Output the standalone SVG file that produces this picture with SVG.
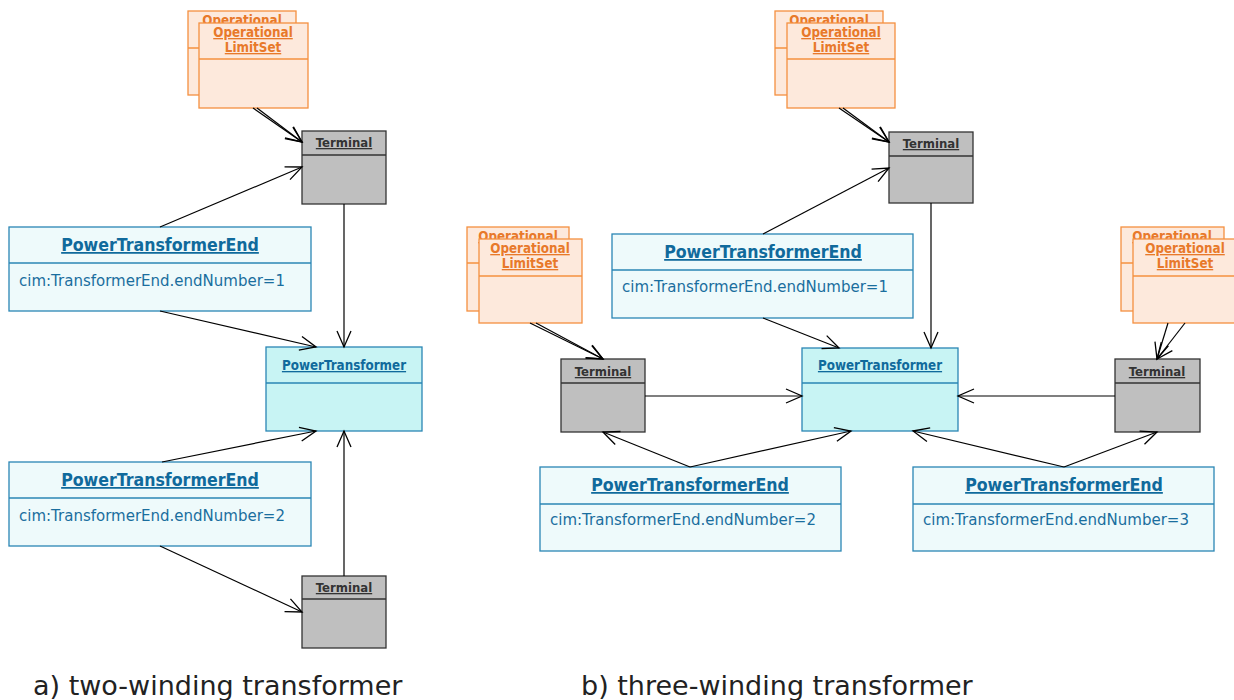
<svg xmlns="http://www.w3.org/2000/svg" width="1234" height="700" viewBox="0 0 1234 700">
<defs>
<marker id="arr" viewBox="-18 -9 20 18" refX="0" refY="0" markerWidth="20" markerHeight="18" orient="auto" markerUnits="userSpaceOnUse">
<path d="M-16,-7 L0,0 L-16,7" fill="none" stroke="#000" stroke-width="1.3"/>
</marker>
</defs>
<style>
.cd{font-family:"DejaVu Sans Condensed","DejaVu Sans",sans-serif;font-stretch:condensed;font-weight:bold;text-anchor:middle;text-decoration:underline}
.ols{fill:#fde9dc;stroke:#f5903f;stroke-width:1.3}
.olst{font-size:13.3px;fill:#e8792a}
.term{fill:#bfbfbf;stroke:#333;stroke-width:1.3}
.termt{font-size:13px;fill:#333}
.pte{fill:#eefafb;stroke:#2a86b4;stroke-width:1.3}
.ptet{font-size:17.6px;fill:#106a9c}
.ptea{font-family:"DejaVu Sans",Verdana,sans-serif;font-size:15px;fill:#1a6e9e}
.pt{fill:#c8f4f4;stroke:#2a86b4;stroke-width:1.3}
.ptt{font-size:13.3px;fill:#106a9c}
.c{fill:none;stroke:#000;stroke-width:1.2;marker-end:url(#arr)}
.cap{font-family:"DejaVu Sans",Verdana,sans-serif;font-size:27px;fill:#222}
</style>
<rect width="1234" height="700" fill="#fff"/>

<!-- ===== a) two-winding ===== -->
<g id="ols-a">
<rect class="ols" x="188" y="11" width="108" height="84"/>
<line class="ols" x1="188" y1="48" x2="296" y2="48"/>
<text class="cd olst" x="242" y="25">Operational</text>
<rect class="ols" x="199" y="23" width="109" height="85"/>
<line class="ols" x1="199" y1="59" x2="308" y2="59"/>
<text class="cd olst" x="253" y="37">Operational</text>
<text class="cd olst" x="253" y="52">LimitSet</text>
</g>
<g id="term-a1">
<rect class="term" x="302" y="131" width="84" height="73"/>
<line class="term" x1="302" y1="155" x2="386" y2="155"/>
<text class="cd termt" x="344" y="147">Terminal</text>
</g>
<g id="pte-a1">
<rect class="pte" x="9" y="227" width="302" height="84"/>
<line class="pte" x1="9" y1="263" x2="311" y2="263"/>
<text class="cd ptet" x="160" y="251">PowerTransformerEnd</text>
<text class="ptea" x="19" y="286">cim:TransformerEnd.endNumber=1</text>
</g>
<g id="pt-a">
<rect class="pt" x="266" y="347" width="156" height="84"/>
<line class="pt" x1="266" y1="383" x2="422" y2="383"/>
<text class="cd ptt" x="344" y="370">PowerTransformer</text>
</g>
<g id="pte-a2">
<rect class="pte" x="9" y="462" width="302" height="84"/>
<line class="pte" x1="9" y1="498" x2="311" y2="498"/>
<text class="cd ptet" x="160" y="486">PowerTransformerEnd</text>
<text class="ptea" x="19" y="521">cim:TransformerEnd.endNumber=2</text>
</g>
<g id="term-a2">
<rect class="term" x="302" y="576" width="84" height="72"/>
<line class="term" x1="302" y1="599" x2="386" y2="599"/>
<text class="cd termt" x="344" y="592">Terminal</text>
</g>

<!-- ===== b) three-winding ===== -->
<g id="ols-b1">
<rect class="ols" x="775" y="11" width="108" height="84"/>
<line class="ols" x1="775" y1="48" x2="883" y2="48"/>
<text class="cd olst" x="829" y="25">Operational</text>
<rect class="ols" x="787" y="23" width="108" height="85"/>
<line class="ols" x1="787" y1="59" x2="895" y2="59"/>
<text class="cd olst" x="841" y="37">Operational</text>
<text class="cd olst" x="841" y="52">LimitSet</text>
</g>
<g id="term-b1">
<rect class="term" x="889" y="132" width="84" height="71"/>
<line class="term" x1="889" y1="156" x2="973" y2="156"/>
<text class="cd termt" x="931" y="148">Terminal</text>
</g>
<g id="pte-b1">
<rect class="pte" x="612" y="234" width="301" height="84"/>
<line class="pte" x1="612" y1="270" x2="913" y2="270"/>
<text class="cd ptet" x="763" y="258">PowerTransformerEnd</text>
<text class="ptea" x="622" y="292">cim:TransformerEnd.endNumber=1</text>
</g>
<g id="ols-b2">
<rect class="ols" x="467" y="227" width="102" height="84"/>
<line class="ols" x1="467" y1="263" x2="569" y2="263"/>
<text class="cd olst" x="518" y="241">Operational</text>
<rect class="ols" x="479" y="239" width="103" height="84"/>
<line class="ols" x1="479" y1="276" x2="582" y2="276"/>
<text class="cd olst" x="530" y="253">Operational</text>
<text class="cd olst" x="530" y="268">LimitSet</text>
</g>
<g id="ols-b3">
<rect class="ols" x="1121" y="227" width="103" height="84"/>
<line class="ols" x1="1121" y1="263" x2="1224" y2="263"/>
<text class="cd olst" x="1172" y="241">Operational</text>
<rect class="ols" x="1133" y="239" width="103" height="84"/>
<line class="ols" x1="1133" y1="276" x2="1236" y2="276"/>
<text class="cd olst" x="1185" y="253">Operational</text>
<text class="cd olst" x="1185" y="268">LimitSet</text>
</g>
<g id="term-b2">
<rect class="term" x="561" y="359" width="84" height="73"/>
<line class="term" x1="561" y1="383" x2="645" y2="383"/>
<text class="cd termt" x="603" y="376">Terminal</text>
</g>
<g id="pt-b">
<rect class="pt" x="802" y="348" width="156" height="83"/>
<line class="pt" x1="802" y1="383" x2="958" y2="383"/>
<text class="cd ptt" x="880" y="370">PowerTransformer</text>
</g>
<g id="term-b3">
<rect class="term" x="1115" y="359" width="85" height="73"/>
<line class="term" x1="1115" y1="383" x2="1200" y2="383"/>
<text class="cd termt" x="1157" y="376">Terminal</text>
</g>
<g id="pte-b2">
<rect class="pte" x="540" y="467" width="301" height="84"/>
<line class="pte" x1="540" y1="504" x2="841" y2="504"/>
<text class="cd ptet" x="690" y="491">PowerTransformerEnd</text>
<text class="ptea" x="550" y="525">cim:TransformerEnd.endNumber=2</text>
</g>
<g id="pte-b3">
<rect class="pte" x="913" y="467" width="301" height="84"/>
<line class="pte" x1="913" y1="504" x2="1214" y2="504"/>
<text class="cd ptet" x="1064" y="491">PowerTransformerEnd</text>
<text class="ptea" x="923" y="525">cim:TransformerEnd.endNumber=3</text>
</g>

<g id="connectors">
<line class="c" x1="253" y1="108" x2="302" y2="142"/>
<line class="c" x1="257" y1="108" x2="302" y2="142"/>
<line class="c" x1="160" y1="227" x2="302" y2="167"/>
<line class="c" x1="344" y1="204" x2="344" y2="347"/>
<line class="c" x1="160" y1="311" x2="316" y2="347"/>
<line class="c" x1="162" y1="462" x2="316" y2="431"/>
<line class="c" x1="344" y1="576" x2="344" y2="431"/>
<line class="c" x1="160" y1="546" x2="302" y2="612"/>

<line class="c" x1="839" y1="108" x2="889" y2="142"/>
<line class="c" x1="843" y1="108" x2="889" y2="142"/>
<line class="c" x1="763" y1="234" x2="889" y2="168"/>
<line class="c" x1="931" y1="203" x2="931" y2="348"/>
<line class="c" x1="763" y1="318" x2="839" y2="348"/>
<line class="c" x1="530" y1="323" x2="603" y2="359"/>
<line class="c" x1="536" y1="323" x2="603" y2="359"/>
<line class="c" x1="645" y1="396" x2="802" y2="396"/>
<line class="c" x1="690" y1="467" x2="603" y2="432"/>
<line class="c" x1="690" y1="467" x2="851" y2="431"/>
<line class="c" x1="1168" y1="323" x2="1157" y2="359"/>
<line class="c" x1="1185" y1="323" x2="1157" y2="359"/>
<line class="c" x1="1115" y1="396" x2="958" y2="396"/>
<line class="c" x1="1064" y1="467" x2="913" y2="431"/>
<line class="c" x1="1064" y1="467" x2="1157" y2="432"/>
</g>

<text class="cap" x="33" y="695">a) two-winding transformer</text>
<text class="cap" x="581" y="695">b) three-winding transformer</text>
</svg>
